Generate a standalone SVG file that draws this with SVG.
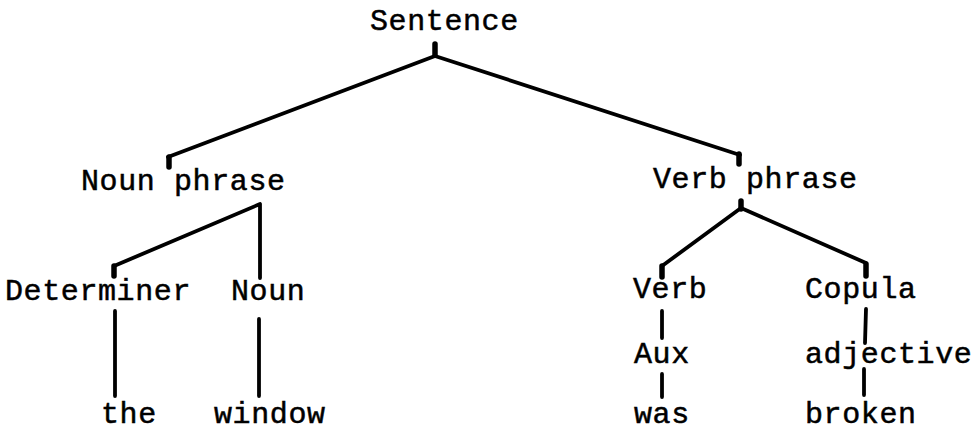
<svg xmlns="http://www.w3.org/2000/svg" width="977" height="433" viewBox="0 0 977 433">
<style>
text{font-family:"Liberation Mono","DejaVu Sans Mono",monospace;font-size:30px;letter-spacing:0.6px;fill:#000;stroke:#000;stroke-width:0.5px}
.e{stroke:#000;stroke-width:3.8;fill:none;stroke-linecap:round;stroke-linejoin:round}
.k{stroke:#000;stroke-width:5.5;stroke-linecap:round}
</style>
<rect width="977" height="433" fill="#fff"/>
<g id="connectors">
<path class="e" d="M168,157 L435,56 L740,155"/>
<line class="k" x1="435" y1="44" x2="435" y2="55"/>
<line class="k" x1="169" y1="157" x2="169" y2="167"/>
<line class="k" x1="739" y1="154" x2="739" y2="164"/>
<path class="e" d="M114,266 L260,204 L260,278"/>
<line class="k" x1="114" y1="266" x2="114" y2="276"/>
<path class="e" d="M662,266 L741,208 L866,263"/>
<line class="k" x1="741" y1="201" x2="741" y2="209"/>
<line class="k" x1="662" y1="266" x2="662" y2="277"/>
<line class="k" x1="866" y1="264" x2="866" y2="276"/>
<line class="e" x1="115" y1="311" x2="115" y2="396"/>
<line class="e" x1="259" y1="319" x2="259" y2="396"/>
<line class="e" x1="662" y1="311" x2="662" y2="338"/>
<line class="e" x1="662" y1="374" x2="662" y2="397"/>
<line class="e" x1="866" y1="309" x2="865" y2="343"/>
<line class="e" x1="864" y1="369" x2="864" y2="395"/>
</g>
<g id="sentence"><text x="370" y="30">Sentence</text></g>
<g id="noun-phrase"><text x="81" y="190">Noun phrase</text></g>
<g id="verb-phrase"><text x="653" y="188">Verb phrase</text></g>
<g id="determiner"><text x="5" y="300">Determiner</text></g>
<g id="noun"><text x="231" y="300">Noun</text></g>
<g id="verb"><text x="633" y="298">Verb</text></g>
<g id="copula"><text x="805" y="298">Copula</text></g>
<g id="aux"><text x="634" y="363">Aux</text></g>
<g id="adjective"><text x="805" y="363">adjective</text></g>
<g id="the"><text x="101" y="423">the</text></g>
<g id="window"><text x="214" y="423">window</text></g>
<g id="was"><text x="634" y="423">was</text></g>
<g id="broken"><text x="805" y="423">broken</text></g>
</svg>
